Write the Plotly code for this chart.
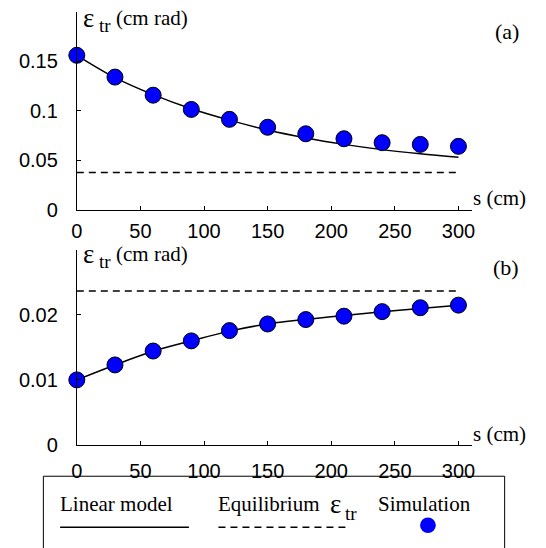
import plotly.graph_objects as go

# ---------------- data ----------------
s_cm = [0, 30, 60, 90, 120, 150, 180, 210, 240, 270, 300]

sim_a = [0.156, 0.134, 0.1157, 0.1013, 0.0913, 0.0833, 0.0767, 0.0717, 0.0677, 0.066, 0.064]
model_a = [0.156, 0.1335, 0.1163, 0.102, 0.0905, 0.0805, 0.0725, 0.066, 0.0607, 0.0565, 0.053]
eq_a = 0.0377

sim_b = [0.0100, 0.0123, 0.01444, 0.0160, 0.01758, 0.0186, 0.01928, 0.0198, 0.0205, 0.0211, 0.0215]
model_b = [0.0100, 0.0123, 0.0144, 0.0160, 0.0175, 0.0186, 0.0193, 0.0199, 0.0205, 0.0210, 0.0215]
eq_b = 0.02367

x_ticks = [0, 50, 100, 150, 200, 250, 300]
ya_ticks = [0, 0.05, 0.1, 0.15]
ya_text = ["0", "0.05", "0.1", "0.15"]
yb_ticks = [0, 0.01, 0.02]
yb_text = ["0", "0.01", "0.02"]

W, H = 546, 548
SERIF = "Liberation Serif"
SANS = "Liberation Sans"
BLUE = "#0000ff"


def px(x):
    return x / W


def py(y):
    return (H - y) / H


fig = go.Figure()

for xa, ya, model, sim, eq in [("x", "y", model_a, sim_a, eq_a), ("x2", "y2", model_b, sim_b, eq_b)]:
    fig.add_trace(go.Scatter(x=s_cm, y=model, mode="lines", line=dict(color="black", width=1.5, shape="spline"),
                             xaxis=xa, yaxis=ya, showlegend=False, cliponaxis=False))
    fig.add_trace(go.Scatter(x=[s_cm[0], s_cm[-1]], y=[eq, eq], mode="lines",
                             line=dict(color="black", width=1.5, dash="7px,5px"),
                             xaxis=xa, yaxis=ya, showlegend=False, cliponaxis=False))
    fig.add_trace(go.Scatter(x=s_cm, y=sim, mode="markers",
                             marker=dict(color=BLUE, size=16, line=dict(color="black", width=1)),
                             xaxis=xa, yaxis=ya, showlegend=False, cliponaxis=False))

xdom = [px(72), px(474)]
axis_common = dict(showgrid=False, zeroline=False, showline=True, linecolor="black", linewidth=1,
                   ticks="inside", ticklen=4, tickwidth=1, tickcolor="black",
                   tickfont=dict(family=SANS, size=20, color="black"))

fig.update_layout(
    width=W, height=H, margin=dict(l=0, r=0, t=0, b=0),
    paper_bgcolor="white", plot_bgcolor="white",
    xaxis=dict(domain=xdom, range=[0, 310.8], tickvals=x_ticks, anchor="y",
               ticklabelstandoff=3, **axis_common),
    yaxis=dict(domain=[py(214), py(12)], range=[0, 0.2], tickvals=ya_ticks, ticktext=ya_text,
               anchor="x", ticklabelstandoff=14, **axis_common),
    xaxis2=dict(domain=xdom, range=[0, 310.8], tickvals=x_ticks, anchor="y2",
                ticklabelstandoff=8, **axis_common),
    yaxis2=dict(domain=[py(454), py(255)], range=[0, 0.03], tickvals=yb_ticks, ticktext=yb_text,
                anchor="x2", ticklabelstandoff=14, **axis_common),
)

ann = []


def label(x, y, text, size, xanchor="left", yanchor="middle"):
    ann.append(dict(x=px(x), y=py(y), xref="paper", yref="paper", text=text, showarrow=False,
                    xanchor=xanchor, yanchor=yanchor, font=dict(family=SERIF, size=size, color="black")))


for dy, tag in [(0, "(a)"), (241, "(b)")]:
    label(76, 18 + dy, "ε", 27)
    label(93, 26 + dy, "tr", 19)
    label(110, 18 + dy, "(cm rad)", 21)
    label(524, 32 + dy, tag, 22, xanchor="right")
    label(473, 202 + dy, "s (cm)", 21)

# legend
label(53, 514, "Linear model", 21)
label(214, 514, "Equilibrium", 21)
label(327, 514, "ε", 27)
label(343, 524, "tr", 19)
label(376, 514, "Simulation", 21)
fig.update_layout(annotations=ann)

shapes = [
    dict(type="rect", xref="paper", yref="paper", x0=px(38), x1=px(507), y0=py(560), y1=py(486),
         line=dict(color="black", width=1), fillcolor="rgba(0,0,0,0)"),
    dict(type="line", xref="paper", yref="paper", x0=px(55), x1=px(186), y0=py(538), y1=py(538),
         line=dict(color="black", width=1.5)),
    dict(type="line", xref="paper", yref="paper", x0=px(216), x1=px(346), y0=py(538), y1=py(538),
         line=dict(color="black", width=1.5, dash="7px,5px")),
    dict(type="circle", xref="paper", yref="paper", x0=px(421), x1=px(437), y0=py(544), y1=py(528),
         line=dict(color=BLUE, width=0), fillcolor=BLUE),
]
fig.update_layout(shapes=shapes)

fig.write_html("out.html", config={"displayModeBar": False},
               post_script="document.body.style.margin='0px';")
